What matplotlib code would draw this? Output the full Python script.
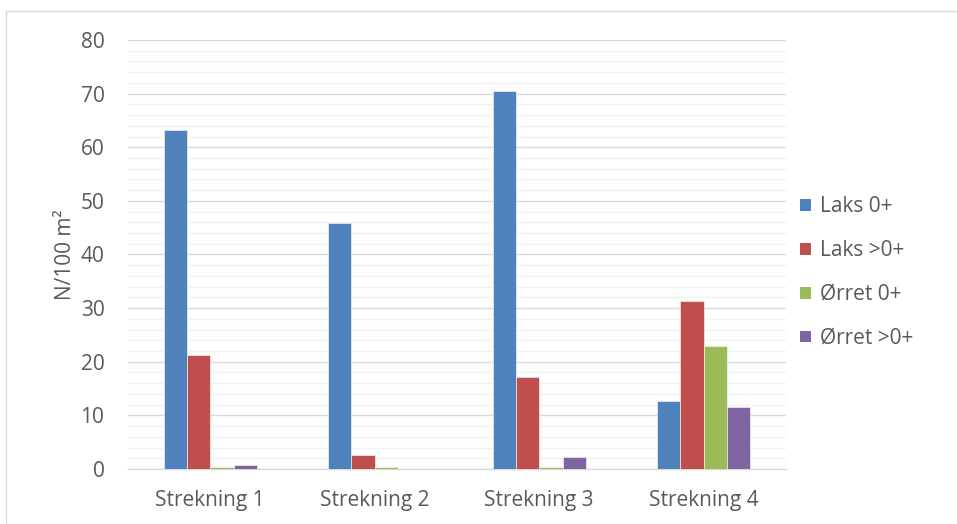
import numpy as np
import matplotlib
matplotlib.use("Agg")
import matplotlib.pyplot as plt
from matplotlib.patches import Rectangle

plt.rcParams['font.family'] = ['Open Sans', 'DejaVu Sans']

# data
strekninger = ['Strekning 1', 'Strekning 2', 'Strekning 3', 'Strekning 4']
serie_navn = ['Laks 0+', 'Laks >0+', 'Ørret 0+', 'Ørret >0+']
laks_0 = [63.3, 45.8, 70.4, 12.6]
laks_eldre = [21.2, 2.6, 17.2, 31.3]
orret_0 = [0.3, 0.3, 0.3, 22.9]
orret_eldre = [0.8, 0.0, 2.3, 11.5]
farger = ['#4F81BD', '#C0504D', '#9BBB59', '#8064A2']

tekstfarge = '#595959'

fig = plt.figure(figsize=(9.57, 5.24), dpi=100)
ax = fig.add_axes([128 / 957, 1 - 469 / 524, 658 / 957, 429 / 524])

# ramme rundt diagrammet (kuttet i høyre og nedre kant)
fig.patches.append(Rectangle((6 / 957, -0.1), 1.2, 1 - 11 / 524 + 0.1,
                             transform=fig.transFigure, fill=False,
                             edgecolor='#D9D9D9', linewidth=1.0))

x = np.arange(len(strekninger))
bredde = 0.1415
serier = [laks_0, laks_eldre, orret_0, orret_eldre]
for i, (verdier, navn) in enumerate(zip(serier, serie_navn)):
    ax.bar(x + (i - 1.5) * bredde, verdier, width=bredde, color=farger[i],
           edgecolor='white', linewidth=0.4, label=navn, zorder=3)

ax.set_xlim(-0.5, len(strekninger) - 0.5)
ax.set_ylim(0, 80)
ax.set_yticks(np.arange(0, 81, 10))
ax.set_yticks(np.arange(0, 81, 2), minor=True)
ax.set_xticks(x)
ax.set_xticklabels(strekninger)

ax.grid(axis='y', which='major', color='#D9D9D9', linewidth=1.0, zorder=0)
ax.grid(axis='y', which='minor', color='#F2F2F2', linewidth=1.0, zorder=0)
ax.set_axisbelow(True)

for side in ['top', 'right', 'left']:
    ax.spines[side].set_visible(False)
ax.spines['bottom'].set_color('#D9D9D9')
ax.spines['bottom'].set_linewidth(1.0)

ax.tick_params(axis='both', which='both', length=0, labelsize=15, colors=tekstfarge)
ax.tick_params(axis='y', pad=17)
ax.tick_params(axis='x', pad=15)

ax.set_ylabel('N/100 m²', fontsize=15, color=tekstfarge, labelpad=3)

leg = ax.legend(loc='center left', bbox_to_anchor=(1.009, 0.458), frameon=False,
                borderaxespad=0, fontsize=15, handlelength=0.5, handleheight=0.5,
                handletextpad=0.45, labelspacing=1.1, labelcolor=tekstfarge)
for h in leg.legend_handles:
    h.set_edgecolor('none')

fig.savefig('out.png', dpi=100)
